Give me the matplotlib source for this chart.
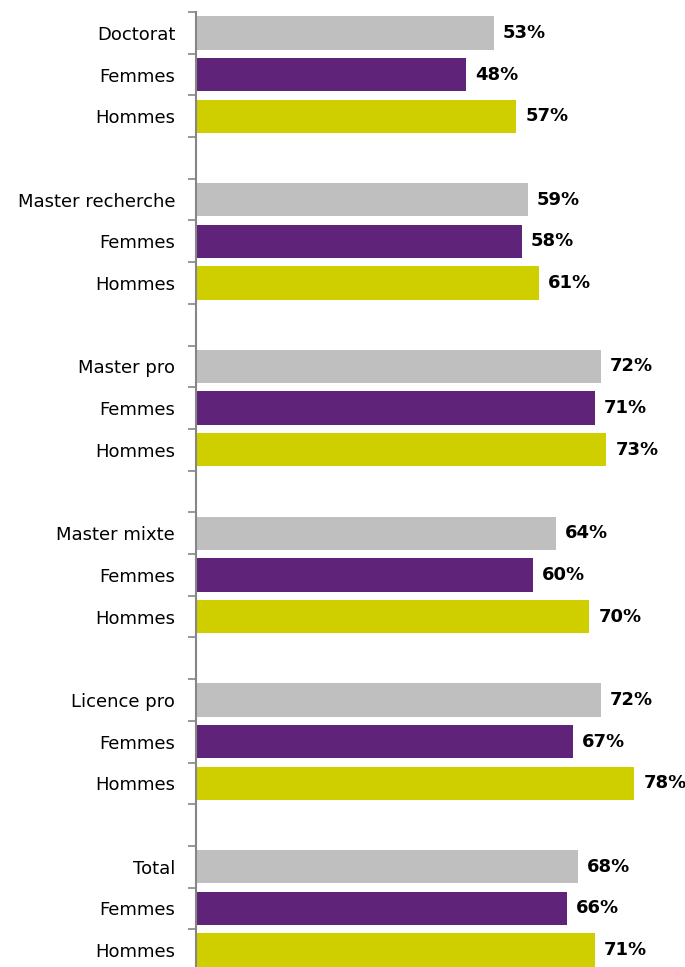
import matplotlib.pyplot as plt
import numpy as np

# share of each diploma group, overall then women then men (percent)
groups = ['Doctorat', 'Master recherche', 'Master pro', 'Master mixte', 'Licence pro', 'Total']
overall = [53, 59, 72, 64, 72, 68]
femmes = [48, 58, 71, 60, 67, 66]
hommes = [57, 61, 73, 70, 78, 71]

colors = ['#BFBFBF', '#5F2479', '#CFCF00']

fig = plt.figure(figsize=(6.85, 9.67), dpi=100)
ax = fig.add_axes([196 / 685, -4 / 967, 489 / 685, 959 / 967])

labels = []
ypos = []
for g, name in enumerate(groups):
    vals = (overall[g], femmes[g], hommes[g])
    for k, (v, c) in enumerate(zip(vals, colors)):
        y = g * 4 + k + 0.5
        ax.barh(y, v, height=0.8, color=c, edgecolor='none')
        ax.text(v + 1.6, y, '{}%'.format(v), va='center', ha='left',
                fontsize=13, fontweight='bold', color='black')
        ypos.append(y)
        labels.append(name if k == 0 else ('Femmes' if k == 1 else 'Hommes'))

n_slots = len(groups) * 4 - 1
ax.set_ylim(n_slots, 0)
ax.set_xlim(0, 87)

ax.set_yticks(ypos)
ax.set_yticklabels(labels, fontsize=13)
ax.tick_params(axis='y', which='major', length=0, pad=15)
ax.set_yticks(np.arange(0, n_slots + 1), minor=True)
ax.tick_params(axis='y', which='minor', length=6, width=1.2, color='#868686')

ax.set_xticks([])
for side in ('top', 'right', 'bottom'):
    ax.spines[side].set_visible(False)
ax.spines['left'].set_color('#868686')
ax.spines['left'].set_linewidth(1.5)

fig.savefig('out.png', dpi=100)
